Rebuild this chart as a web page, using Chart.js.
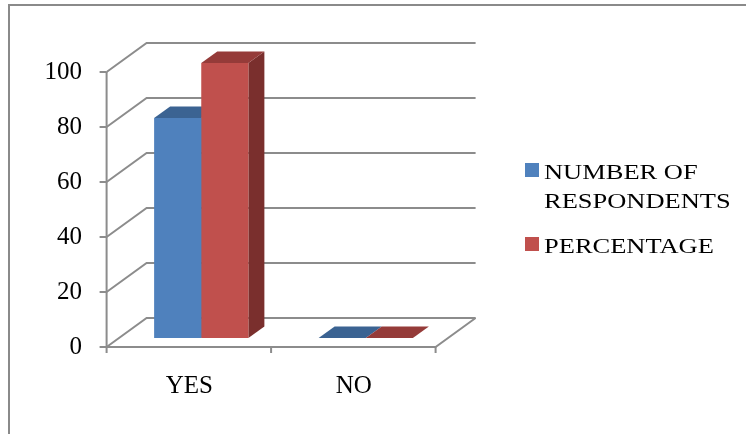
<!DOCTYPE html>
<html>
<head>
<meta charset="utf-8">
<script src="https://cdn.jsdelivr.net/npm/chart.js@4.4.1/dist/chart.umd.min.js"></script>
<style>
    html, body { margin: 0; padding: 0; background: #fff; }
    #wrap { width: 746px; height: 434px; position: relative; }
</style>
</head>
<body>
<div id="wrap"><canvas id="chart" width="746" height="434"></canvas></div>
<script>
const categories = ["YES", "NO"];
const respondents = [80, 0];
const percentage = [100, 0];
const yTicks = [0, 20, 40, 60, 80, 100];
const seriesNames = [["NUMBER OF", "RESPONDENTS"], ["PERCENTAGE"]];

const colors = [
    { front: "#4f81bd", top: "#3b6392", side: "#2f4f77" },
    { front: "#c0504d", top: "#953b39", side: "#7a2f2d" }
];

// 3d look: full depth of the box, where the bars sit inside it, and how deep they are
const depth = { x: 40, y: -29 };
const frontShare = 0.31;
const barShare = 0.4;
const serif = "'Liberation Serif', 'Times New Roman', serif";

const box3d = {
    id: "box3d",
    beforeDraw(chart) {
        const ctx = chart.ctx;
        ctx.save();
        ctx.strokeStyle = "#8a8a8a";
        ctx.lineWidth = 2;
        ctx.beginPath();
        ctx.moveTo(9, 434);
        ctx.lineTo(9, 5);
        ctx.lineTo(746, 5);
        ctx.stroke();
        ctx.restore();
    },
    beforeDatasetsDraw(chart) {
        const { ctx, chartArea: a, scales: { x, y } } = chart;
        const fx = -frontShare * depth.x, fy = -frontShare * depth.y;
        const bx = (1 - frontShare) * depth.x, by = (1 - frontShare) * depth.y;

        ctx.save();
        ctx.strokeStyle = "#8c8c8c";
        ctx.lineWidth = 2;

        // side wall diagonals and back wall grid
        yTicks.forEach(v => {
            const py = y.getPixelForValue(v);
            ctx.beginPath();
            ctx.moveTo(a.left + fx, py + fy);
            ctx.lineTo(a.left + bx, py + by);
            ctx.lineTo(a.right + bx, py + by);
            ctx.stroke();
        });

        // floor front edge and right edge
        const p0 = y.getPixelForValue(0);
        ctx.beginPath();
        ctx.moveTo(a.left + fx, p0 + fy);
        ctx.lineTo(a.right + fx, p0 + fy);
        ctx.lineTo(a.right + bx, p0 + by);
        ctx.stroke();

        // front value axis with ticks
        const pTop = y.getPixelForValue(y.max);
        ctx.beginPath();
        ctx.moveTo(a.left + fx, p0 + fy);
        ctx.lineTo(a.left + fx, pTop + fy);
        yTicks.forEach(v => {
            const py = y.getPixelForValue(v) + fy;
            ctx.moveTo(a.left + fx - 7, py);
            ctx.lineTo(a.left + fx, py);
        });
        // category ticks
        for (let i = 0; i <= categories.length; i++) {
            const px = x.getPixelForValue(i - 0.5) + fx;
            ctx.moveTo(px, p0 + fy);
            ctx.lineTo(px, p0 + fy + 6);
        }
        ctx.stroke();

        // bar tops and sides, fronts are drawn by chart.js on top
        const dx = barShare * depth.x, dy = barShare * depth.y;
        chart.data.datasets.forEach((ds, di) => {
            const c = colors[di];
            chart.getDatasetMeta(di).data.forEach(el => {
                const p = el.getProps(["x", "y", "base", "width"], true);
                const l = p.x - p.width / 2, r = p.x + p.width / 2;
                const t = Math.min(p.y, p.base), b = Math.max(p.y, p.base);
                ctx.fillStyle = c.side;
                ctx.beginPath();
                ctx.moveTo(r, t);
                ctx.lineTo(r + dx, t + dy);
                ctx.lineTo(r + dx, b + dy);
                ctx.lineTo(r, b);
                ctx.closePath();
                ctx.fill();
                ctx.fillStyle = c.top;
                ctx.beginPath();
                ctx.moveTo(l, t);
                ctx.lineTo(r, t);
                ctx.lineTo(r + dx, t + dy);
                ctx.lineTo(l + dx, t + dy);
                ctx.closePath();
                ctx.fill();
            });
        });
        ctx.restore();
    },
    afterDraw(chart) {
        // legend on the right, text is a bit wide in the original
        const ctx = chart.ctx;
        const items = [
            { lines: seriesNames[0], top: 163 },
            { lines: seriesNames[1], top: 237 }
        ];
        ctx.save();
        ctx.font = "21px " + serif;
        ctx.textBaseline = "alphabetic";
        ctx.fillStyle = "#000";
        items.forEach((it, i) => {
            ctx.fillStyle = colors[i].front;
            ctx.fillRect(525, it.top, 14, 14);
            ctx.fillStyle = "#000";
            it.lines.forEach((line, k) => {
                ctx.save();
                ctx.translate(544, it.top + 16 + k * 29);
                ctx.scale(1.26, 1);
                ctx.fillText(line, 0, 0);
                ctx.restore();
            });
        });
        ctx.restore();
    }
};

new Chart(document.getElementById("chart"), {
    type: "bar",
    data: {
        labels: categories,
        datasets: [
            {
                label: seriesNames[0].join(" "),
                data: respondents,
                backgroundColor: colors[0].front,
                categoryPercentage: 0.573,
                barPercentage: 1
            },
            {
                label: seriesNames[1].join(" "),
                data: percentage,
                backgroundColor: colors[1].front,
                categoryPercentage: 0.573,
                barPercentage: 1
            }
        ]
    },
    options: {
        responsive: false,
        animation: false,
        devicePixelRatio: 1,
        layout: { padding: { left: 0, top: 63, right: 298, bottom: 0 } },
        plugins: {
            legend: { display: false },
            tooltip: { enabled: false }
        },
        scales: {
            x: {
                grid: { display: false, drawTicks: false },
                border: { display: false },
                ticks: {
                    color: "#000",
                    font: { family: serif, size: 25 },
                    padding: 33,
                    labelOffset: -12
                },
                afterFit(scale) { scale.height = 96; }
            },
            y: {
                min: 0,
                max: 100,
                grid: { display: false, drawTicks: false },
                border: { display: false },
                ticks: {
                    stepSize: 20,
                    color: "#000",
                    font: { family: serif, size: 25 },
                    padding: 37,
                    labelOffset: 9
                },
                afterFit(scale) { scale.width = 119; }
            }
        }
    },
    plugins: [box3d]
});
</script>
</body>
</html>
